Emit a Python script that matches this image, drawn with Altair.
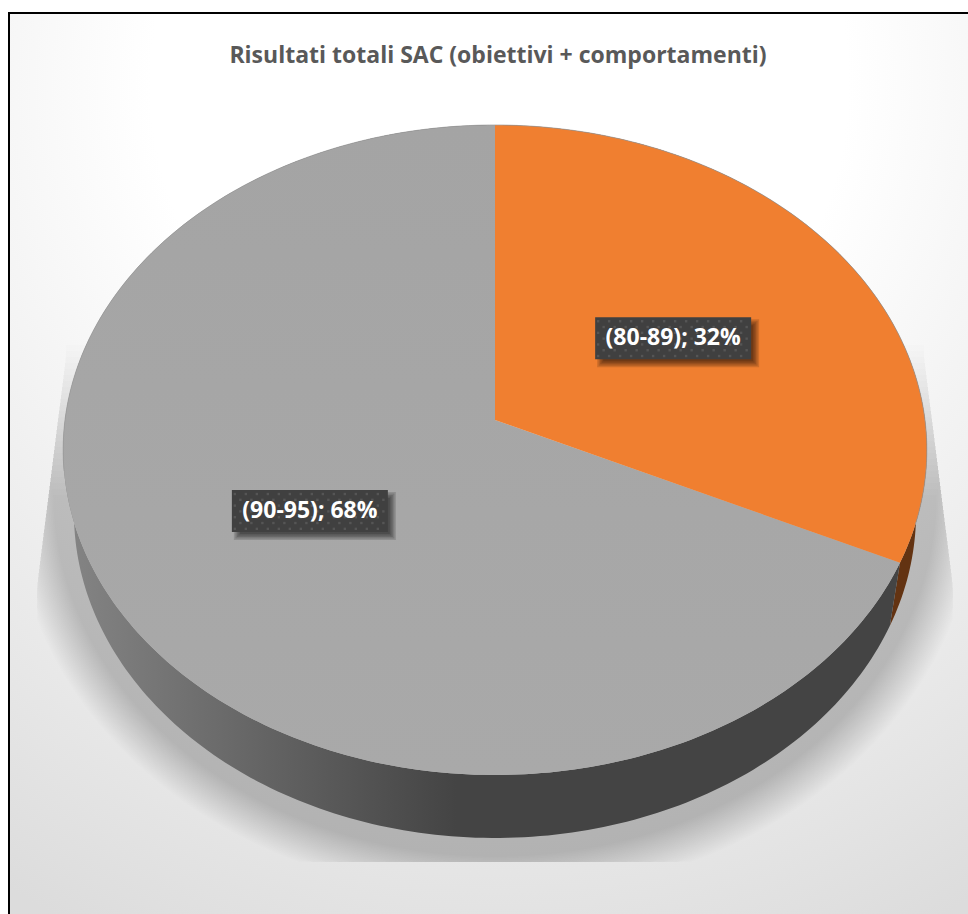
import math
import altair as alt

# Chart content
TITLE = "Risultati totali SAC (obiettivi + comportamenti)"
CATEGORIES = ["(80-89)", "(90-95)"]
SHARES = [32, 68]

# Disc drawn in perspective: apex, radii, vertical foreshortening and rim depth
APEX_X, APEX_Y = 495.0, 420.0
K_X, K_Y, PERSP = 430.0, -283.46, 0.0923
RIM_DROP, RIM_SHRINK = 63.0, 0.975
W, H = 968, 914


def top(theta, r=1.0):
    u, v = r * math.sin(theta), r * math.cos(theta)
    d = 1 + PERSP * v
    return (APEX_X + K_X * u / d, (K_Y * v + APEX_Y) / d)


def bottom(theta):
    x, y = top(theta)
    return (APEX_X + (x - APEX_X) * RIM_SHRINK, y + RIM_DROP)


def arc(fn, a, b, step_deg=1.0):
    n = max(2, int(abs(b - a) / math.radians(step_deg)))
    return [fn(a + (b - a) * i / n) for i in range(n + 1)]


def polygon(points, **props):
    ring = [list(p) for p in points]
    ring.append(ring[0])
    return {"type": "Feature", "properties": props,
            "geometry": {"type": "Polygon", "coordinates": [ring]}}


def rect(x0, y0, x1, y1, **props):
    return polygon([(x0, y0), (x1, y0), (x1, y1), (x0, y1)], **props)


def geo(features):
    return alt.Chart(alt.Data(values=features))


PROJ = dict(type="identity", scale=1, translate=[0, 0])

# Slice angles, clockwise from twelve o'clock
angles = []
start = 0.0
for share in SHARES:
    end = start + share / 100 * 2 * math.pi
    angles.append((start, end))
    start = end


def shape(features, **mark):
    return geo(features).mark_geoshape(**mark).project(**PROJ)


# Panel with a soft radial background and dark frame
panel = shape(
    [rect(9, 13, 990, 940)],
    stroke="#000000",
    strokeWidth=2,
    fill=alt.RadialGradient(
        gradient="radial", x1=0.5, y1=0.1, r1=0.0, x2=0.5, y2=0.1, r2=0.96,
        stops=[
            alt.GradientStop(offset=0.0, color="#ffffff"),
            alt.GradientStop(offset=0.37, color="#ffffff"),
            alt.GradientStop(offset=1.0, color="#dcdcdc"),
        ],
    ),
)

# Soft floor shadow beneath the disc, built from nested translucent outlines
SHADOW_TOP, SHADOW_BOTTOM = 345.0, 862.0
SHADOW_STEPS = 26


def shadow_outline(step):
    # step 0 is the widest, faintest outline; later ones tighten and start lower
    f = step / (SHADOW_STEPS - 1)
    rx, ry = 482 - 40 * f, 402 - 40 * f
    ceiling = SHADOW_TOP + 150 * f
    pts = []
    cx, cy = APEX_X, 495.0
    for i in range(240):
        t = 2 * math.pi * i / 240
        x = cx + rx * math.sin(t)
        y = cy + ry * math.cos(t)
        y = min(max(y, ceiling), SHADOW_BOTTOM)
        g = min(1.0, (y - 355.0) / 230.0)
        half = 429 + 29 * max(g, 0.0)
        x = min(max(x, APEX_X - half), APEX_X + half)
        pts.append((x, y))
    return polygon(pts)


shadow_layers = [shadow_outline(i) for i in range(SHADOW_STEPS)]
shadow = shape(shadow_layers, fill="#000000", fillOpacity=0.0088, strokeWidth=0)


def wall(a, b):
    return polygon(arc(top, a, b) + arc(bottom, b, a))


wall_orange = shape([wall(*angles[0])], fill="#633312", strokeWidth=0)
wall_grey = shape(
    [wall(*angles[1])],
    strokeWidth=0,
    fill=alt.LinearGradient(
        gradient="linear", x1=0, y1=0, x2=1, y2=0,
        stops=[
            alt.GradientStop(offset=0.0, color="#858585"),
            alt.GradientStop(offset=0.47, color="#444444"),
            alt.GradientStop(offset=1.0, color="#444444"),
        ],
    ),
)


def slice_face(a, b):
    return polygon([(APEX_X, APEX_Y)] + arc(top, a, b))


face_orange = shape([slice_face(*angles[0])], fill="#f07f30", strokeWidth=0)
face_grey = shape(
    [slice_face(*angles[1])],
    strokeWidth=0,
    fill=alt.LinearGradient(
        gradient="linear", x1=0, y1=0, x2=0, y2=1,
        stops=[
            alt.GradientStop(offset=0.0, color="#a4a4a4"),
            alt.GradientStop(offset=1.0, color="#a9a9a9"),
        ],
    ),
)

# Thin edge around the upper rim
rim_pts = arc(top, -math.pi * 0.55, angles[0][1] - 0.12)
rim = geo([{"type": "Feature", "properties": {},
            "geometry": {"type": "LineString", "coordinates": [list(p) for p in rim_pts]}}]
          ).mark_geoshape(filled=False, stroke="#9a9a9a", strokeWidth=0.7).project(**PROJ)

# Data labels sit halfway along each slice's bisector
labels = []
box_shadows, boxes, dots = [], [], []
BOX_W, BOX_H = 156, 42
for cat, share, (a, b) in zip(CATEGORIES, SHARES, angles):
    x, y = top((a + b) / 2, 0.5)
    x += 1.0
    y += 2.5
    labels.append({"text": f"{cat}; {share}%", "x": x, "y": y})
    x0, y0 = x - BOX_W / 2, y - BOX_H / 2
    for g in range(5):
        grow = 3 - g * 1.5
        box_shadows.append(rect(x0 + 5 - grow, y0 + 5 - grow,
                                x0 + BOX_W + 5 + grow, y0 + BOX_H + 5 + grow))
    boxes.append(rect(x0, y0, x0 + BOX_W, y0 + BOX_H))
    row = 0
    yy = y0 + 4
    while yy < y0 + BOX_H - 2:
        xx = x0 + 3 + (5.5 if row % 2 else 0)
        while xx < x0 + BOX_W - 2:
            dots.append(rect(xx - 1.2, yy - 1.2, xx + 1.2, yy + 1.2))
            xx += 11
        yy += 5.8
        row += 1

box_shadow = shape(box_shadows, fill="#000000", fillOpacity=0.14, strokeWidth=0)
box = shape(boxes, fill="#404040", strokeWidth=0)
box_dots = shape(dots, fill="#555555", strokeWidth=0)

label_text = (
    alt.Chart(alt.Data(values=labels))
    .mark_text(font="Open Sans", fontWeight="bold", fontSize=23, color="#ffffff",
               align="center", baseline="middle")
    .encode(longitude="x:Q", latitude="y:Q", text="text:N")
    .project(**PROJ)
)

chart = (
    alt.layer(panel, shadow, wall_orange, wall_grey, face_grey, face_orange, rim,
              box_shadow, box, box_dots, label_text)
    .properties(
        width=W,
        height=H,
        padding=0,
        autosize=alt.AutoSizeParams(type="none"),
        background="#ffffff",
        title=alt.TitleParams(
            TITLE, font="Open Sans", fontWeight="bold", fontSize=23, color="#595959",
            anchor="middle", frame="group", baseline="middle", dx=14, dy=79, offset=0,
        ),
    )
    .configure_view(stroke=None)
)

chart.save("out.html", embed_options={"renderer": "svg", "actions": False})
